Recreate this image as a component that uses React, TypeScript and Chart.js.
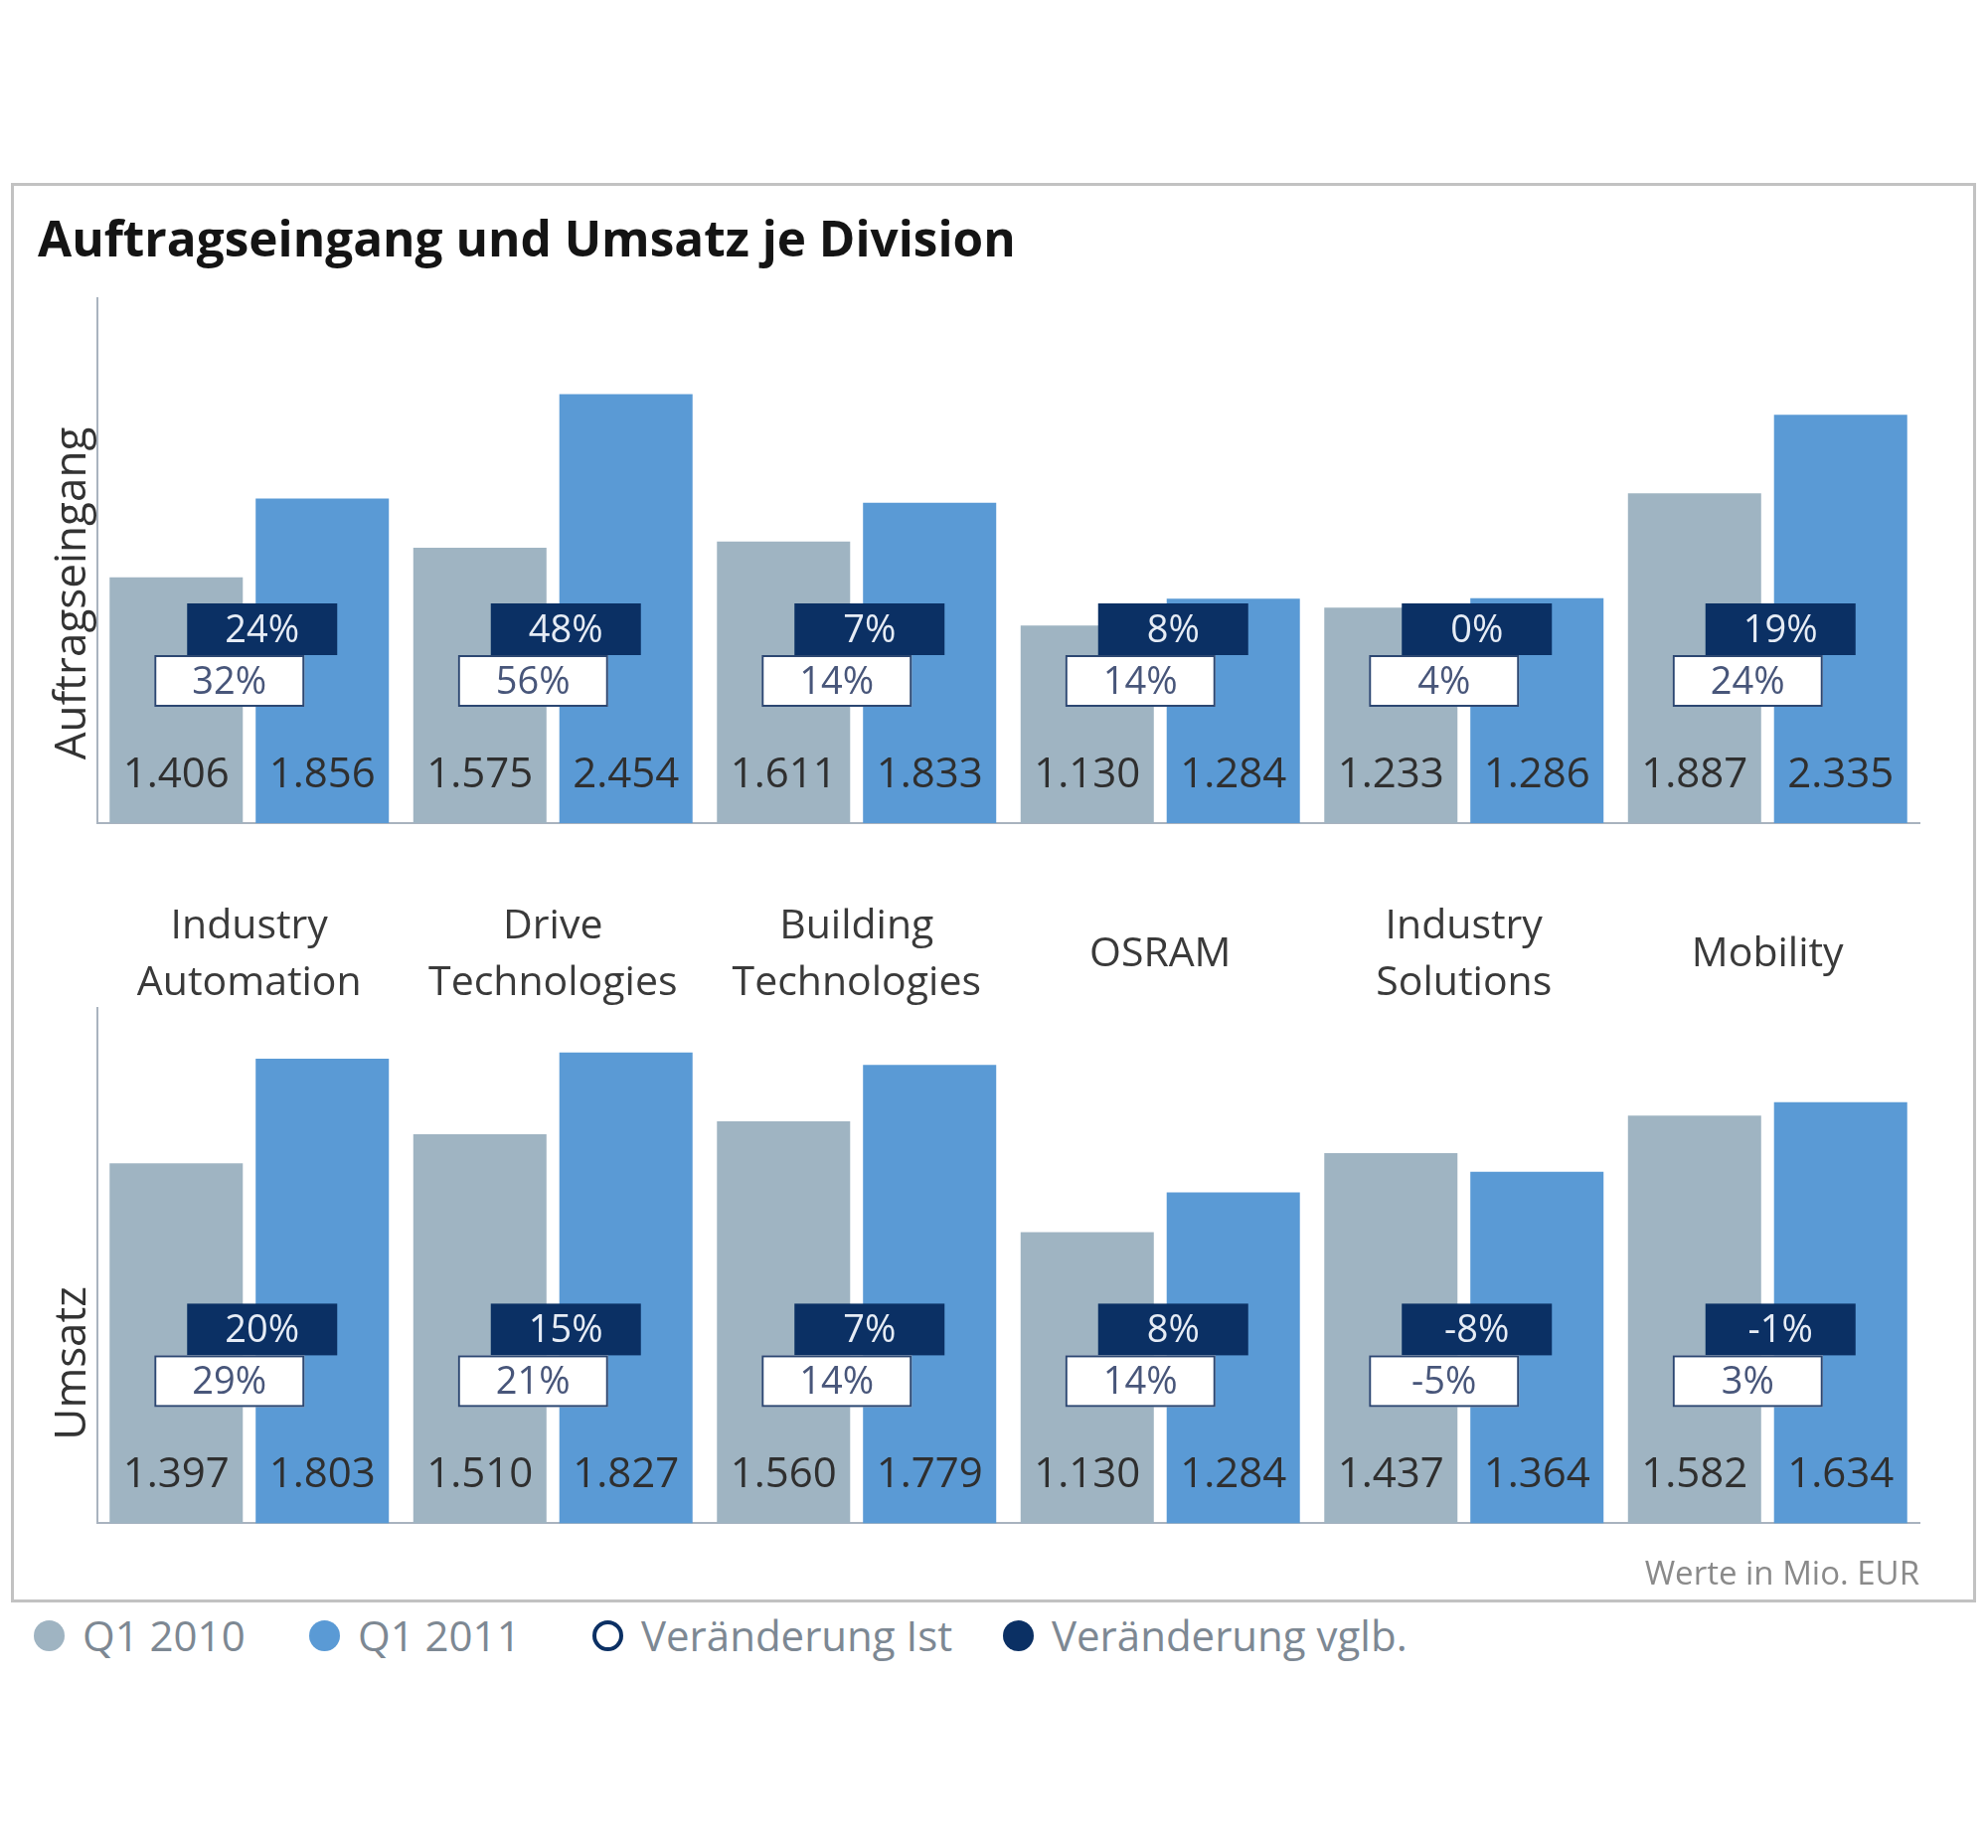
import React, { useEffect, useRef } from "react";
import { Chart, registerables } from "chart.js";

Chart.register(...registerables);

// ---- data (Mio. EUR) ----
const divisions: (string | string[])[] = [
  ["Industry", "Automation"],
  ["Drive", "Technologies"],
  ["Building", "Technologies"],
  "OSRAM",
  ["Industry", "Solutions"],
  "Mobility",
];
const seriesNames = ["Q1 2010", "Q1 2011"];

const ordersQ1_2010 = [1406, 1575, 1611, 1130, 1233, 1887];
const ordersQ1_2011 = [1856, 2454, 1833, 1284, 1286, 2335];
const ordersChangeActual = [32, 56, 14, 14, 4, 24];
const ordersChangeComparable = [24, 48, 7, 8, 0, 19];

const revenueQ1_2010 = [1397, 1510, 1560, 1130, 1437, 1582];
const revenueQ1_2011 = [1803, 1827, 1779, 1284, 1364, 1634];
const revenueChangeActual = [29, 21, 14, 14, -5, 3];
const revenueChangeComparable = [20, 15, 7, 8, -8, -1];

const ordersAxisMax = 3000;
const revenueAxisMax = 2000;

const legendItems = ["Q1 2010", "Q1 2011", "Veränderung Ist", "Veränderung vglb."];

// ---- styling ----
const FONT = "'Open Sans', 'Noto Sans', sans-serif";
const GREY = "#9fb4c2";
const BLUE = "#5a9ad5";
const NAVY = "#0b3064";
const AXIS = "#a9b3bf";

Chart.defaults.font.family = FONT;

// German thousands separator: 1406 -> "1.406"
const fmt = (v: number) => {
  const th = Math.floor(v / 1000);
  const rest = String(v % 1000).padStart(3, "0");
  return th > 0 ? `${th}.${rest}` : String(v);
};

// value printed near the foot of every bar
const valueLabels = {
  id: "valueLabels",
  afterDatasetsDraw(chart: any) {
    const { ctx, chartArea } = chart;
    ctx.save();
    ctx.font = `42px ${FONT}`;
    ctx.fillStyle = "#2f2f2f";
    ctx.textAlign = "center";
    ctx.textBaseline = "middle";
    chart.data.datasets.forEach((ds: any, di: number) => {
      const meta = chart.getDatasetMeta(di);
      meta.data.forEach((bar: any, i: number) => {
        ctx.fillText(fmt(ds.data[i]), bar.x, chartArea.bottom - 48);
      });
    });
    ctx.restore();
  },
};

// navy box = comparable change, white box = actual change
const makeChangeBoxes = (actual: number[], comparable: number[]) => ({
  id: "changeBoxes",
  afterDatasetsDraw(chart: any) {
    const { ctx, chartArea, scales } = chart;
    const w = 151;
    const h = 52;
    const darkTop = chartArea.bottom - 221;
    const lightTop = darkTop + h;
    ctx.save();
    ctx.font = `38px ${FONT}`;
    ctx.textAlign = "center";
    ctx.textBaseline = "middle";
    comparable.forEach((v, i) => {
      const cx = scales.x.getPixelForValue(i);
      const dx = cx + 13;
      ctx.fillStyle = NAVY;
      ctx.fillRect(dx - w / 2, darkTop, w, h);
      ctx.fillStyle = "#e6ecf5";
      ctx.fillText(`${v}%`, dx, darkTop + h / 2 + 2);

      const lx = cx - 20;
      ctx.fillStyle = "#ffffff";
      ctx.fillRect(lx - w / 2, lightTop, w, h);
      ctx.strokeStyle = "#2c4772";
      ctx.lineWidth = 2;
      ctx.strokeRect(lx - w / 2 + 1, lightTop + 1, w - 2, h - 2);
      ctx.fillStyle = "#48567a";
      ctx.fillText(`${actual[i]}%`, lx, lightTop + h / 2 + 2);
    });
    ctx.restore();
  },
});

// rotated panel name left of the value axis
const makeSideTitle = (text: string, offsetFromBottom: number) => ({
  id: "sideTitle",
  afterDraw(chart: any) {
    const { ctx, chartArea } = chart;
    ctx.save();
    ctx.translate(chartArea.left - 12, chartArea.bottom - offsetFromBottom);
    ctx.rotate(-Math.PI / 2);
    ctx.font = `44px ${FONT}`;
    ctx.fillStyle = "#333333";
    ctx.textAlign = "center";
    ctx.textBaseline = "alphabetic";
    ctx.fillText(text, 0, 0);
    ctx.restore();
  },
});

const baseScales = (max: number) => ({
  y: {
    min: 0,
    max,
    grid: { display: false, drawTicks: false },
    border: { display: true, color: AXIS, width: 2 },
    ticks: { display: false },
    afterFit: (s: any) => {
      s.width = 60;
    },
  },
});

const barSizing = { categoryPercentage: 0.962, barPercentage: 0.912 };

function PanelChart({
  width,
  height,
  config,
}: {
  width: number;
  height: number;
  config: () => any;
}) {
  const ref = useRef<HTMLCanvasElement | null>(null);
  useEffect(() => {
    if (!ref.current) return;
    const chart = new Chart(ref.current, config());
    return () => chart.destroy();
  }, []);
  return <canvas ref={ref} width={width} height={height} style={{ display: "block" }} />;
}

const ordersConfig = () => ({
  type: "bar",
  data: {
    labels: divisions,
    datasets: [
      { label: seriesNames[0], data: ordersQ1_2010, backgroundColor: GREY },
      { label: seriesNames[1], data: ordersQ1_2011, backgroundColor: BLUE },
    ],
  },
  options: {
    animation: false,
    responsive: false,
    devicePixelRatio: 1,
    layout: { padding: { left: 38, right: 69, top: 0, bottom: 0 } },
    datasets: { bar: barSizing },
    plugins: {
      legend: { display: false },
      tooltip: { enabled: false },
      title: {
        display: true,
        text: "Auftragseingang und Umsatz je Division",
        align: "start",
        color: "#141414",
        font: { size: 49.5, weight: "bold", family: FONT },
        padding: { top: 24, bottom: 27 },
      },
    },
    scales: {
      x: {
        grid: { display: false, drawTicks: false },
        border: { display: true, color: AXIS, width: 2 },
        ticks: {
          color: "#3a3a3a",
          font: { size: 41, lineHeight: 1.39 },
          padding: 104,
          maxRotation: 0,
          autoSkip: false,
          crossAlign: "center",
        },
        afterFit: (s: any) => {
          s.height = 230;
        },
      },
      ...baseScales(ordersAxisMax),
    },
  },
  plugins: [
    valueLabels,
    makeChangeBoxes(ordersChangeActual, ordersChangeComparable),
    makeSideTitle("Auftragseingang", 231),
  ],
});

const revenueConfig = () => ({
  type: "bar",
  data: {
    labels: divisions,
    datasets: [
      { label: seriesNames[0], data: revenueQ1_2010, backgroundColor: GREY },
      { label: seriesNames[1], data: revenueQ1_2011, backgroundColor: BLUE },
    ],
  },
  options: {
    animation: false,
    responsive: false,
    devicePixelRatio: 1,
    layout: { padding: { left: 38, right: 69, top: 14, bottom: 6 } },
    datasets: { bar: barSizing },
    plugins: {
      legend: { display: false },
      tooltip: { enabled: false },
      title: {
        display: true,
        position: "bottom",
        align: "end",
        text: "Werte in Mio. EUR",
        color: "#8a8a8a",
        font: { size: 33, weight: "normal", family: FONT },
        padding: { top: 32, bottom: 0 },
      },
    },
    scales: {
      x: {
        grid: { display: false, drawTicks: false },
        border: { display: true, color: AXIS, width: 2 },
        ticks: { display: false },
        afterFit: (s: any) => {
          s.height = 0;
        },
      },
      ...baseScales(revenueAxisMax),
    },
  },
  plugins: [
    valueLabels,
    makeChangeBoxes(revenueChangeActual, revenueChangeComparable),
    makeSideTitle("Umsatz", 161),
  ],
});

const legendSwatches = [
  { background: GREY, border: "none" },
  { background: BLUE, border: "none" },
  { background: "#ffffff", border: `4px solid ${NAVY}` },
  { background: NAVY, border: "none" },
];
const legendLeft = [34, 311, 596, 1009];

export default function App() {
  return (
    <div
      style={{
        position: "absolute",
        left: 0,
        top: 0,
        width: 2000,
        height: 1859,
        background: "#ffffff",
        overflow: "hidden",
        fontFamily: FONT,
      }}
    >
      <div
        style={{
          position: "absolute",
          left: 11,
          top: 184,
          width: 1977,
          height: 1428,
          border: "3px solid #c2c2c2",
          boxSizing: "border-box",
        }}
      />
      <div style={{ position: "absolute", left: 0, top: 190 }}>
        <PanelChart width={2000} height={868} config={ordersConfig} />
      </div>
      <div style={{ position: "absolute", left: 0, top: 1000 }}>
        <PanelChart width={2000} height={610} config={revenueConfig} />
      </div>
      {legendItems.map((name, i) => (
        <div
          key={name}
          style={{
            position: "absolute",
            left: legendLeft[i],
            top: 1620,
            height: 50,
            display: "flex",
            alignItems: "center",
            whiteSpace: "nowrap",
          }}
        >
          <span
            style={{
              display: "inline-block",
              width: 31,
              height: 31,
              borderRadius: "50%",
              boxSizing: "border-box",
              background: legendSwatches[i].background,
              border: legendSwatches[i].border,
              marginRight: 18,
            }}
          />
          <span style={{ fontSize: 42, color: "#7d8893", lineHeight: "50px" }}>{name}</span>
        </div>
      ))}
    </div>
  );
}
